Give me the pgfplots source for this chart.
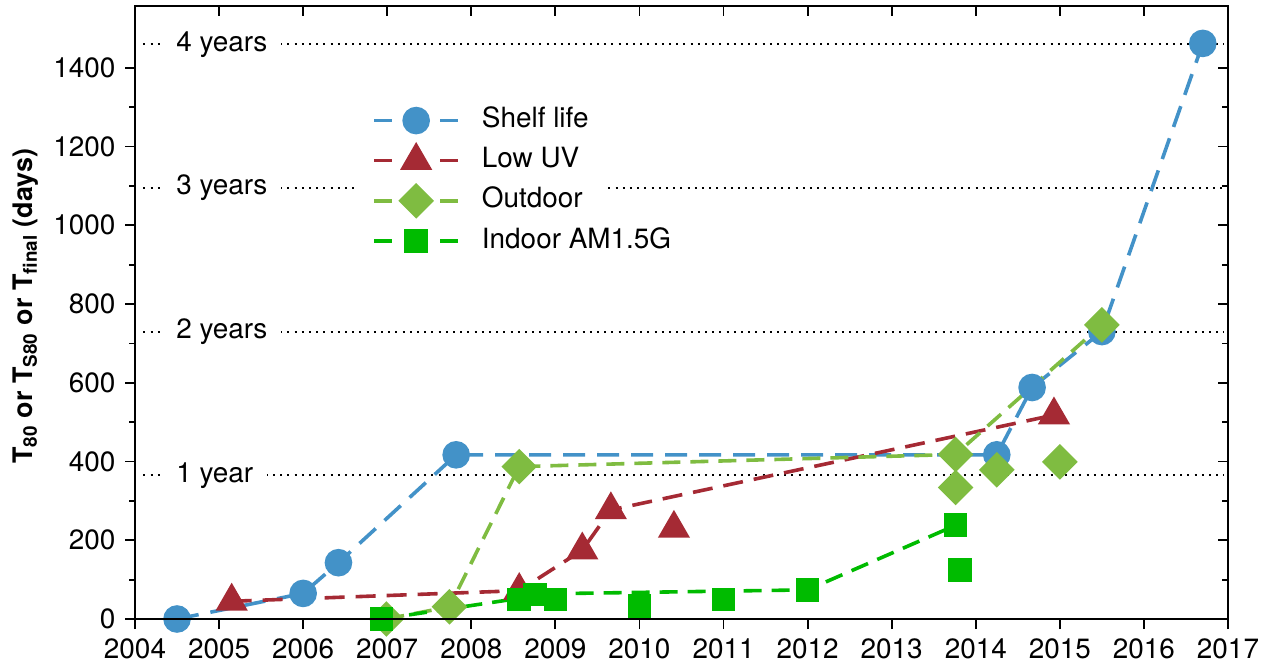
\documentclass[border=0pt]{standalone}
\usepackage{fontspec}
\setmainfont{TeX Gyre Heros}
\usepackage{pgfplots}
\pgfplotsset{compat=1.18}
\definecolor{cblue}{RGB}{67,146,200}
\definecolor{cred}{RGB}{165,42,52}
\definecolor{colive}{RGB}{127,188,65}
\definecolor{cgreen}{RGB}{0,187,0}
\newcommand{\fs}{\fontsize{14}{16}\selectfont}
\pgfplotsset{
  common/.style={
    scale only axis, width=546.5bp, height=306.5bp,
    xmin=2004, xmax=2017, ymin=0, ymax=1557,
    xtick={2004,2005,...,2017}, minor x tick num=1,
    ytick={0,200,...,1400}, minor y tick num=1,
    major tick length=5bp, minor tick length=3bp,
    axis line style={line width=1bp},
    every tick/.style={line width=0.9bp, black},
    /pgf/number format/1000 sep={},
    /pgf/number format/assume math mode=true,
    ticklabel style={font=\fs},
  },
  sl/.style={cblue, line width=1.8bp, dash pattern=on 11bp off 6bp, mark=*, mark size=6bp, mark options={solid, draw=none, fill=cblue}},
  uv/.style={cred, line width=1.8bp, dash pattern=on 10bp off 5.5bp, mark=triangle*, mark size=7.5bp, mark options={solid, draw=none, fill=cred}},
  od/.style={colive, line width=1.8bp, dash pattern=on 9bp off 5bp, mark=square*, mark size=5.4bp, mark options={solid, draw=none, fill=colive, rotate=45}},
  id/.style={cgreen, line width=1.8bp, dash pattern=on 9bp off 5bp, mark=square*, mark size=5bp, mark options={solid, draw=none, fill=cgreen}},
  gl/.style={black, line width=1bp, dash pattern=on 1bp off 2.6bp},
}
\begin{document}
\fs
\begin{tikzpicture}
\begin{axis}[common,
  clip=false, axis on top,
  xtick pos=left, ytick pos=left, tick align=outside,
  ylabel={\bfseries\fontsize{13.5}{16}\selectfont T\textsubscript{80} or T\textsubscript{S80} or T\textsubscript{final} (days)},
  every axis y label/.style={at={(axis description cs:-0.1,0.51)}, rotate=90, anchor=center},
  legend style={at={(axis description cs:0.204,0.848)}, anchor=north west, draw=none, fill=none,
     font=\fs, row sep=5bp, inner xsep=7bp, inner ysep=3bp,
     nodes={inner sep=1bp, text height=10bp, text depth=3bp}},
  legend cell align=left,
  legend image code/.code={\draw[mark repeat=2, mark phase=2, #1, dash pattern=on 9bp off 24bp] plot coordinates {(0bp,0bp) (21bp,0bp) (42bp,0bp)}; \path (52bp,0bp);},
]
% reference lines (years)
\addplot[gl, forget plot] coordinates {(2004.1,365) (2016.95,365)};
\addplot[gl, forget plot] coordinates {(2004.1,730) (2016.95,730)};
\addplot[gl, forget plot] coordinates {(2004.1,1095) (2006.62,1095)};
\addplot[gl, forget plot] coordinates {(2009.63,1095) (2016.95,1095)};
\addplot[gl, forget plot] coordinates {(2004.1,1460) (2016.95,1460)};
\node[fill=white, inner xsep=7bp, inner ysep=1bp, anchor=west, font=\fs] at (axis cs:2004.32,365) {1 year};
\node[fill=white, inner xsep=7bp, inner ysep=1bp, anchor=west, font=\fs] at (axis cs:2004.32,730) {2 years};
\node[fill=white, inner xsep=7bp, inner ysep=1bp, anchor=west, font=\fs] at (axis cs:2004.32,1095) {3 years};
\node[fill=white, inner xsep=7bp, inner ysep=1bp, anchor=west, font=\fs] at (axis cs:2004.32,1460) {4 years};

\addlegendimage{sl}\addlegendentry{Shelf life}
\addlegendimage{uv}\addlegendentry{Low UV}
\addlegendimage{od}\addlegendentry{Outdoor}
\addlegendimage{id}\addlegendentry{Indoor AM1.5G}

% Shelf life
\addplot[sl, forget plot] coordinates {
 (2004.5,0) (2006.0,65) (2006.42,143) (2007.82,417) (2014.25,417) (2014.67,588) (2015.5,730) (2016.7,1462)};
% Low UV trend and points
\addplot[uv, mark=none, forget plot] coordinates {
 (2005.15,45) (2008.57,72) (2009.32,175) (2009.66,277) (2014.93,518)};
\addplot[uv, only marks, forget plot] coordinates {
 (2005.15,45) (2008.57,72) (2009.32,175) (2009.66,277) (2010.41,230) (2014.93,518)};
% Outdoor trend and points
\addplot[od, mark=none, forget plot] coordinates {
 (2006.99,0) (2007.74,31) (2008.57,387) (2013.76,418) (2015.5,747)};
\addplot[od, only marks, forget plot] coordinates {
 (2006.99,0) (2007.74,31) (2008.57,387) (2013.76,418) (2013.76,334) (2014.25,379) (2015.0,399) (2015.5,747)};
% Indoor trend and points
\addplot[id, mark=none, forget plot] coordinates {
 (2006.93,0) (2008.65,55) (2009.2,65) (2012.0,74) (2013.76,238)};
\addplot[id, only marks, forget plot] coordinates {
 (2006.93,0) (2008.57,50) (2008.76,62) (2009.0,50) (2010.0,33) (2011.0,50) (2012.0,74) (2013.76,238) (2013.81,125)};
\end{axis}
\begin{axis}[common, axis on top,
  xtick pos=right, ytick pos=right, tick align=inside,
  xticklabels={}, yticklabels={}]
\end{axis}
\pgfresetboundingbox
\path (-67.5bp,-23.5bp) rectangle (569bp,309.5bp);
\end{tikzpicture}
\end{document}
